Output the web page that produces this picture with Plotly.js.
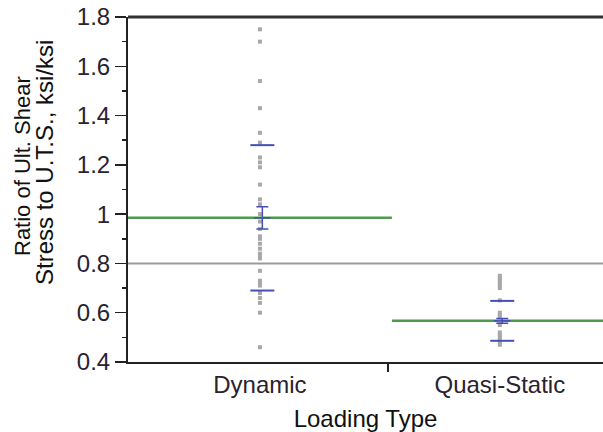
<!DOCTYPE html>
<html><head><meta charset="utf-8">
<script src="https://cdn.plot.ly/plotly-3.0.1.min.js"></script>
<style>html,body{margin:0;padding:0;background:#fff}#chart{width:603px;height:432px}</style>
</head><body><div id="chart"></div>
<script>
const categories = ['Dynamic', 'Quasi-Static'];
const dynamicValues = [1.75, 1.70, 1.54, 1.43, 1.33, 1.29, 1.23, 1.21, 1.19, 1.12, 1.06, 1.04, 1.00, 0.97, 0.94, 0.91, 0.90, 0.88, 0.86, 0.84, 0.83, 0.82, 0.77, 0.73, 0.72, 0.71, 0.68, 0.66, 0.64, 0.60, 0.46];
const quasiStaticValues = [0.75, 0.74, 0.73, 0.72, 0.71, 0.70, 0.65, 0.60, 0.59, 0.58, 0.57, 0.56, 0.55, 0.52, 0.51, 0.50, 0.49, 0.48, 0.47];
const groupMeans = [0.985, 0.567];
const groupStdDevs = [0.295, 0.081];
const groupStdErrs = [0.045, 0.010];
const grandMean = 0.80;
const yTickVals = [0.4, 0.6, 0.8, 1, 1.2, 1.4, 1.6, 1.8];
const yTickText = ['0.4', '0.6', '0.8', '1', '1.2', '1.4', '1.6', '1.8'];
const xTitle = 'Loading Type';
const yTitleLines = ['Ratio of Ult. Shear', 'Stress to U.T.S., ksi/ksi'];

const XMIN = -0.55, XMAX = 1.43, SPLIT = 0.55, MIDTICK = 0.533;
const FONT = 'Liberation Sans, Arial, sans-serif';
const BLUE = '#4650b4';
const groups = [dynamicValues, quasiStaticValues];
const traces = [];

traces.push({x: [XMIN, XMAX], y: [grandMean, grandMean], mode: 'lines',
  line: {color: '#9a9a9a', width: 2}, hoverinfo: 'skip', showlegend: false});

const meanSpans = [[XMIN, SPLIT], [SPLIT, XMAX]];
groupMeans.forEach((m, i) => {
  traces.push({x: meanSpans[i], y: [m, m], mode: 'lines',
    line: {color: '#4f9a4f', width: 2.5}, hoverinfo: 'skip', showlegend: false});
});

groups.forEach((vals, i) => {
  traces.push({x: vals.map(() => i), y: vals, mode: 'markers', type: 'scatter',
    marker: {symbol: 'square', size: 4, color: '#a8a8a8'}, showlegend: false});
});

groupMeans.forEach((m, i) => {
  const c = i + 0.01, w = 0.05;
  traces.push({x: [c - w, c + w, null, c - w, c + w],
    y: [m + groupStdDevs[i], m + groupStdDevs[i], null, m - groupStdDevs[i], m - groupStdDevs[i]],
    mode: 'lines', line: {color: BLUE, width: 2}, hoverinfo: 'skip', showlegend: false});
  traces.push({x: [c], y: [m], mode: 'markers',
    marker: {symbol: 'line-ew', size: 12, line: {color: BLUE, width: 1.5}},
    error_y: {type: 'data', array: [groupStdErrs[i]], visible: true, color: BLUE, thickness: 1.5, width: 6},
    hoverinfo: 'skip', showlegend: false});
});

traces.push({x: [MIDTICK], y: [null], xaxis: 'x2', mode: 'markers', hoverinfo: 'skip', showlegend: false});

const layout = {
  width: 603, height: 432,
  margin: {l: 128, r: 0, t: 17, b: 70},
  paper_bgcolor: '#fff', plot_bgcolor: '#fff',
  font: {family: FONT, color: '#222'},
  xaxis: {range: [XMIN, XMAX], tickmode: 'array', tickvals: [0, 1], ticktext: categories,
    ticks: '', showline: true, linecolor: '#222', linewidth: 2, showgrid: false, zeroline: false,
    tickfont: {family: FONT, size: 24, color: '#2a2230'},
    title: {text: xTitle, font: {family: FONT, size: 24, color: '#111'}, standoff: 16}},
  xaxis2: {overlaying: 'x', range: [XMIN, XMAX], tickmode: 'array', tickvals: [MIDTICK],
    ticks: 'outside', ticklen: 9, tickwidth: 2, tickcolor: '#222', showticklabels: false,
    showline: false, showgrid: false, zeroline: false, side: 'bottom'},
  yaxis: {range: [0.4, 1.8], tickmode: 'array', tickvals: yTickVals, ticktext: yTickText,
    ticks: 'outside', ticklen: 11, tickwidth: 1.5, tickcolor: '#222',
    minor: {tickmode: 'linear', tick0: 0.4, dtick: 0.1, ticks: 'outside', ticklen: 4, tickwidth: 1.5, tickcolor: '#222'},
    showline: true, linecolor: '#222', linewidth: 2, showgrid: false, zeroline: false,
    tickfont: {family: FONT, size: 24, color: '#2a2230'}},
  shapes: [{type: 'line', xref: 'paper', yref: 'paper', x0: 0, x1: 1, y0: 1, y1: 1,
    line: {color: '#333', width: 3}}],
  annotations: [
    {text: yTitleLines[0], xref: 'paper', yref: 'paper', x: (22 - 128) / 475, y: (362 - 166) / 345,
     xanchor: 'center', yanchor: 'middle', textangle: -90, showarrow: false,
     font: {family: FONT, size: 22, color: '#111'}},
    {text: yTitleLines[1], xref: 'paper', yref: 'paper', x: (44 - 128) / 475, y: (362 - 163) / 345,
     xanchor: 'center', yanchor: 'middle', textangle: -90, showarrow: false,
     font: {family: FONT, size: 24, color: '#111'}}
  ]
};

Plotly.newPlot('chart', traces, layout, {displayModeBar: false, staticPlot: true});
</script>
</body></html>
